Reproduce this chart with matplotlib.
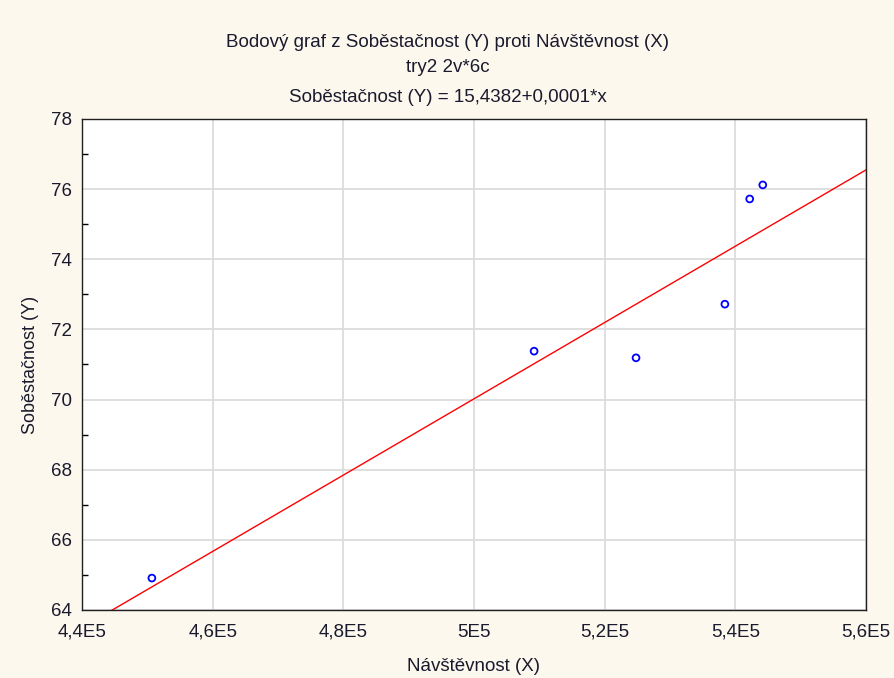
import numpy as np
import matplotlib.pyplot as plt
from matplotlib.ticker import MultipleLocator

# odečtené body z grafu
navstevnost = [450700, 509200, 524800, 538400, 542200, 544200]
sobestacnost = [64.91, 71.38, 71.19, 72.72, 75.72, 76.12]

x_ticks = [440000, 460000, 480000, 500000, 520000, 540000, 560000]
x_labels = ["4,4E5", "4,6E5", "4,8E5", "5E5", "5,2E5", "5,4E5", "5,6E5"]
y_ticks = [64, 66, 68, 70, 72, 74, 76, 78]

plt.rcParams['font.family'] = ['Liberation Sans', 'DejaVu Sans']
txt_col = '#1a1a2e'

fig = plt.figure(figsize=(8.95, 6.78), dpi=100)
fig.patch.set_facecolor('#fdf8ee')
ax = fig.add_axes([0.0916, 0.1003, 0.876, 0.7242])
ax.set_facecolor('white')

# lineární regrese
k, q = np.polyfit(navstevnost, sobestacnost, 1)
xx = np.array([440000, 560000])
ax.plot(xx, q + k * xx, color='#ff0000', lw=1, zorder=2)

ax.scatter(navstevnost, sobestacnost, s=24, facecolors='none',
           edgecolors='#0000ff', linewidths=1.3, zorder=3)

ax.set_xlim(440000, 560000)
ax.set_ylim(64, 78)
ax.set_xticks(x_ticks)
ax.set_xticklabels(x_labels)
ax.set_yticks(y_ticks)
ax.yaxis.set_minor_locator(MultipleLocator(1))
ax.grid(True, color='#dcdcdc', lw=1.3, zorder=0)
ax.set_axisbelow(True)
ax.tick_params(axis='both', which='major', direction='in', length=0,
               labelsize=13.5, labelcolor=txt_col)
ax.tick_params(axis='x', which='major', pad=10)
ax.tick_params(axis='y', which='major', pad=7)
ax.tick_params(axis='y', which='minor', direction='in', length=4, width=1)
for s in ax.spines.values():
    s.set_color('#202020')
    s.set_linewidth(1)

ax.set_xlabel("Návštěvnost (X)", fontsize=13.5, labelpad=12, color=txt_col)
ax.set_ylabel("Soběstačnost (Y)", fontsize=13, labelpad=9, color=txt_col)

fig.text(0.5, 0.938, "Bodový graf z Soběstačnost (Y) proti Návštěvnost (X)",
         ha='center', va='center', fontsize=13.5, color=txt_col)
fig.text(0.5, 0.901, "try2 2v*6c", ha='center', va='center',
         fontsize=13.5, color=txt_col)
fig.text(0.5, 0.856, "Soběstačnost (Y) = 15,4382+0,0001*x",
         ha='center', va='center', fontsize=13.5, color=txt_col)

fig.savefig("out.png", dpi=100, facecolor=fig.get_facecolor())
